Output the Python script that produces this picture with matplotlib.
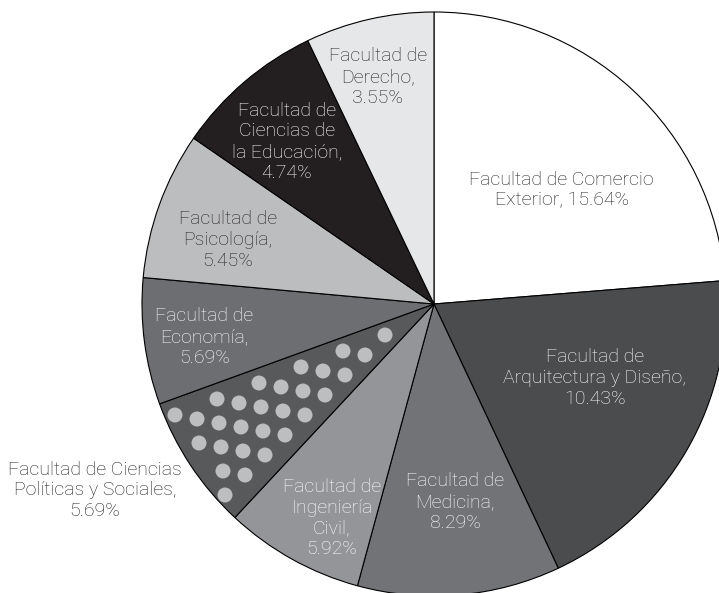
import numpy as np
import matplotlib
matplotlib.use("Agg")
import matplotlib.pyplot as plt
from matplotlib.patches import Circle

# slices (clockwise from 12 o'clock), sizes in degrees
nombres = ["Facultad de Comercio\nExterior",
           "Facultad de\nArquitectura y Diseño",
           "Facultad de\nMedicina",
           "Facultad de\nIngeniería\nCivil",
           "Facultad de Ciencias\nPolíticas y Sociales",
           "Facultad de\nEconomía",
           "Facultad de\nPsicología",
           "Facultad de\nCiencias de\nla Educación",
           "Facultad de\nDerecho"]
porcentajes = ["15.64%", "10.43%", "8.29%", "5.92%", "5.69%", "5.69%", "5.45%", "4.74%", "3.55%"]
angulos = [85.4, 69.4, 40.4, 27.8, 27.0, 25.2, 29.4, 29.8, 25.6]

colores = ["#ffffff", "#4b4c4e", "#727376", "#939598", "#58595b",
           "#6d6e71", "#bcbdbf", "#231f20", "#e6e7e8"]
color_texto = ["#231f20", "white", "white", "white", "#231f20",
               "white", "#231f20", "white", "#231f20"]
# label placement: (distance from centre in px, angle in degrees)
pos_etiqueta = [(171, 41.7), (177, -24.7), (199, -83.9), (237, -115.5), (387, -151.2),
                (232, -171.8), (216, 162.7), (219, 132.2), (234, 103.9)]

W, H = 719, 593
cx, cy, R = 434, H - 304, 292

fig = plt.figure(figsize=(W / 100, H / 100), dpi=100)
ax = fig.add_axes([0, 0, 1, 1])

wedges, _ = ax.pie(angulos, colors=colores, startangle=90, counterclock=False,
                   center=(cx, cy), radius=R,
                   wedgeprops=dict(edgecolor="black", linewidth=0.8))
ax.set_xlim(0, W)
ax.set_ylim(0, H)
ax.set_aspect("equal")
ax.axis("off")

# dotted texture on the Ciencias Políticas slice
w = wedges[4]
t1, t2 = np.radians(w.theta1), np.radians(w.theta2)
a = np.array([22.0, -4.0])
c = np.array([-2.0, 24.0])
origen = np.array([175.0, H - 415.0])
rd = 7.5
for i in range(-30, 30):
    for j in range(-30, 30):
        p = origen + i * a + j * c
        d = p - np.array([cx, cy])
        r = np.hypot(*d)
        inside = True
        for t, s in ((t1, 1), (t2, -1)):
            n = np.array([-np.sin(t), np.cos(t)]) * s
            if np.dot(d, n) < rd + 0.5:
                inside = False
        if inside and r < R - rd - 1:
            ax.add_patch(Circle(p, rd, facecolor="#bcbec0", edgecolor="none", zorder=3))

for k in range(len(nombres)):
    rr, ang = pos_etiqueta[k]
    x = cx + rr * np.cos(np.radians(ang))
    y = cy + rr * np.sin(np.radians(ang))
    sep = ", " if "Comercio" in nombres[k] else ",\n"
    ax.text(x, y, nombres[k] + sep + porcentajes[k],
            ha="center", va="center", color=color_texto[k], fontsize=14,
            family="Roboto", fontweight="light", linespacing=1.2, zorder=4)

fig.savefig("out.png", dpi=100)
